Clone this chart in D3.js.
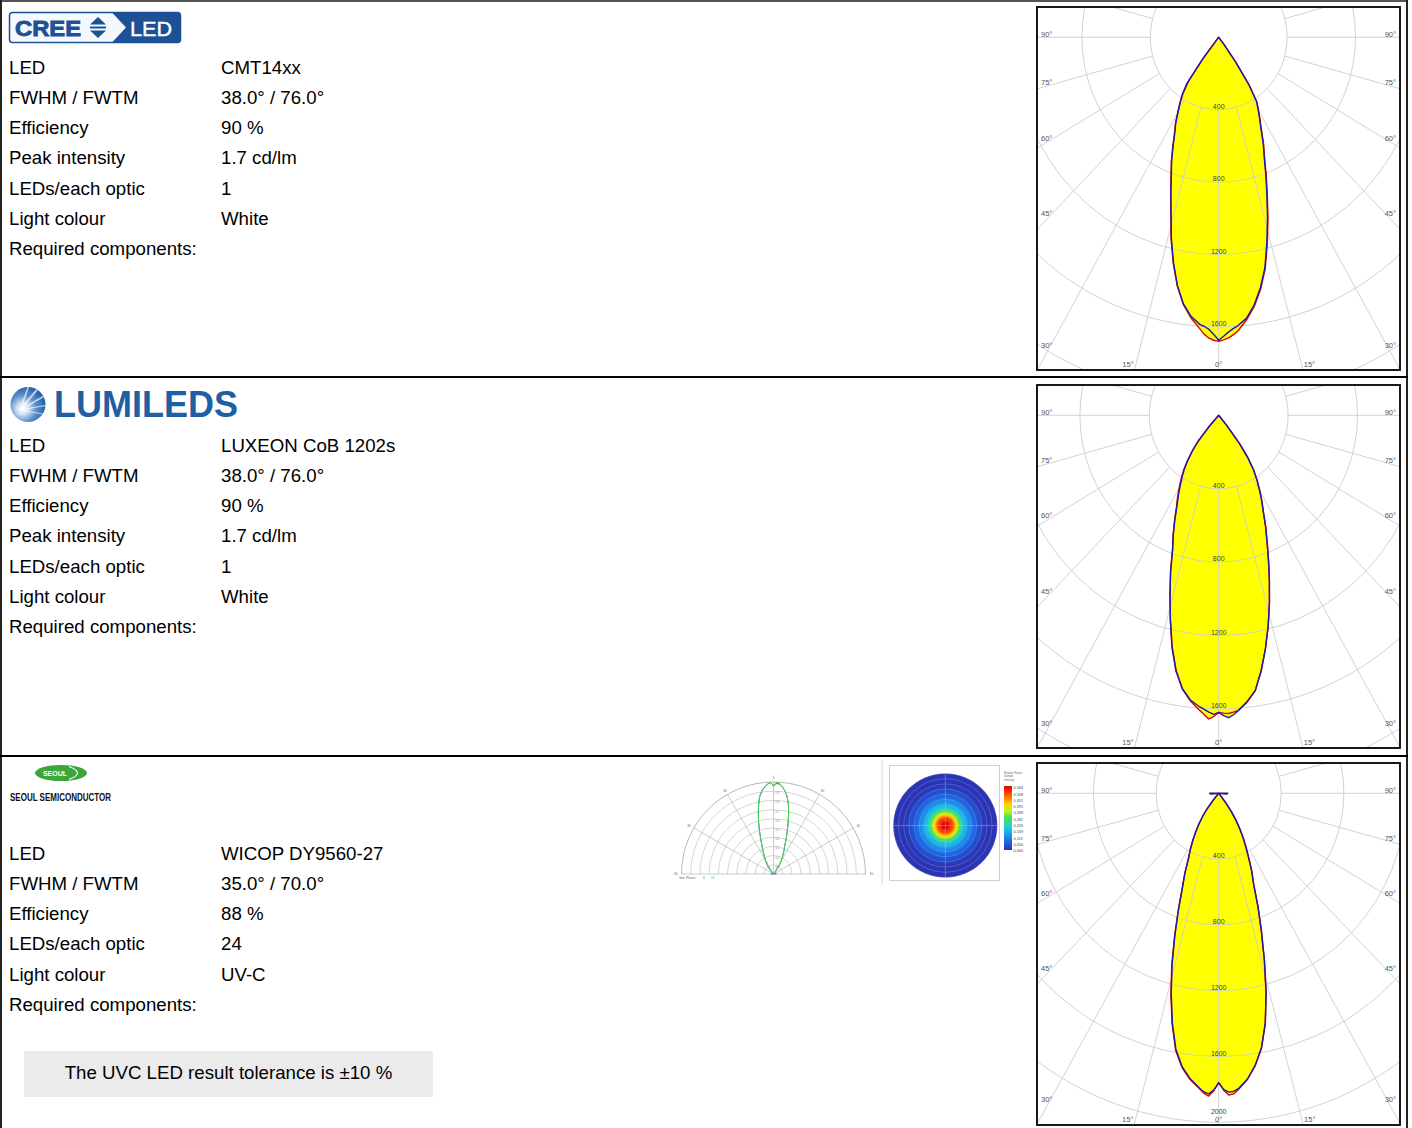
<!DOCTYPE html>
<html><head><meta charset="utf-8">
<script src="https://cdn.jsdelivr.net/npm/d3@7"></script>
<style>body{margin:0;background:#fff;} svg{display:block;font-family:"Liberation Sans",Arial,sans-serif;}</style>
</head><body><svg id="c" width="1412" height="1128"></svg>
<script>
// ---------------- DATA ----------------
const angles = [-90,-85,-44,-42,-40,-38,-36,-34,-32,-30,-28,-26,-24,-22,-20,-18,-16,-14,-12,-10,-8,-6,-4,-3,-2,-1,0,1,2,3,4,6,8,10,12,14,16,18,20,22,24,26,28,30,32,34,36,38,40,42,44,85,90];
// CREE CMT14xx (cd), red = C0-C180, blue = C90-C270
const creeC0  = [0,0,0,0,10,140,300,372,425,478,538,590,660,738,815,910,1015,1150,1278,1395,1490,1558,1612,1642,1662,1674,1680,1672,1662,1645,1625,1568,1500,1412,1308,1175,1045,920,812,716,645,570,514,465,420,318,168,48,0,0,0,0,0];
const creeC90 = [0,0,0,0,20,160,320,380,428,475,535,585,655,735,810,905,1010,1145,1272,1392,1486,1550,1590,1600,1615,1642,1674,1652,1630,1612,1598,1560,1492,1405,1300,1165,1035,912,805,710,640,565,510,462,418,315,168,50,0,0,0,0,0];
// LUMILEDS LUXEON CoB 1202s
const lumC0  = [0,0,0,80,180,245,305,362,410,455,505,555,625,700,778,898,1018,1150,1290,1412,1505,1565,1610,1632,1656,1642,1619,1623,1626,1620,1612,1572,1515,1412,1298,1180,1060,945,838,744,664,586,528,470,415,358,285,192,65,0,0,0,0];
const lumC90 = [0,0,0,90,190,250,305,355,400,445,495,548,620,698,776,898,1018,1152,1295,1417,1505,1560,1592,1605,1618,1630,1619,1637,1649,1634,1614,1568,1515,1412,1298,1180,1062,946,840,746,667,589,531,474,418,362,289,197,70,0,0,0,0];
// SEOUL WICOP DY9560-27
const seoulC0  = [0,0,0,8,55,125,176,226,276,330,385,440,532,622,755,912,1088,1262,1432,1586,1684,1750,1798,1825,1842,1808,1759,1805,1835,1830,1805,1750,1672,1574,1432,1250,1058,882,732,594,520,436,370,310,252,195,138,72,22,0,0,0,0];
const seoulC90 = [58,50,0,10,60,131,180,229,279,333,387,440,530,618,750,905,1080,1254,1425,1578,1678,1745,1795,1818,1828,1805,1759,1800,1818,1815,1800,1748,1672,1572,1430,1255,1062,886,736,598,520,440,373,314,255,198,141,75,25,0,0,50,58];

const ringValues = [400, 800, 1200, 1600, 2000, 2400];
const ringLabelValues = [400, 800, 1200, 1600, 2000];
const spokeAngles = d3.range(0, 360, 15);
const sideLabelAngles = [90, 75, 60, 45, 30];
const bottomLabelAngles = [-15, 0, 15];

const rowLabelsA = ["LED","FWHM / FWTM","Efficiency","Peak intensity","LEDs/each optic","Light colour","Required components:"];
const creeValues = ["CMT14xx","38.0° / 76.0°","90 %","1.7 cd/lm","1","White"];
const lumValues  = ["LUXEON CoB 1202s","38.0° / 76.0°","90 %","1.7 cd/lm","1","White"];
const rowLabelsB = ["LED","FWHM / FWTM","Efficiency","LEDs/each optic","Light colour","Required components:"];
const seoulValues = ["WICOP DY9560-27","35.0° / 70.0°","88 %","24","UV-C"];
const noteText = "The UVC LED result tolerance is ±10 %";

const miniRings = [0.1,0.2,0.3,0.4,0.5,0.6,0.7,0.8,0.9,1.0];
const miniSpokes = [-90,-60,-30,0,30,60,90];
const heatTicks = ["0,564","0,508","0,451","0,395","0,338","0,282","0,226","0,169","0,113","0,056","0,000"];

// ---------------- DRAW ----------------
const svg = d3.select('#c');
svg.append('rect').attr('width',1412).attr('height',1128).attr('fill','#fff');
const deg = d3.scaleLinear().domain([0,180]).range([0,Math.PI]);

// text columns
function drawRows(labels, values, startY) {
  const g = svg.append('g').attr('font-size','18.67px').attr('fill','#000');
  labels.forEach((l,i)=>{
    const y = startY + i*30.25 + 6.7;
    g.append('text').attr('x',9).attr('y',y).text(l);
    if (i < values.length) g.append('text').attr('x',221).attr('y',y).text(values[i]);
  });
}
drawRows(rowLabelsA, creeValues, 67);
drawRows(rowLabelsA, lumValues, 445);
drawRows(rowLabelsB, seoulValues, 853);

// note box
svg.append('rect').attr('x',24).attr('y',1051).attr('width',409).attr('height',46).attr('fill','#ebebeb');
svg.append('text').attr('x',228.5).attr('y',1078.7).attr('text-anchor','middle').attr('font-size','18.67px').text(noteText);

// polar panels
const panels = [
  {top:0,   c0:creeC0,  c90:creeC90,  kx:0.171,  ky:0.181},
  {top:378, c0:lumC0,   c90:lumC90,   kx:0.1735, ky:0.1835},
  {top:756, c0:seoulC0, c90:seoulC90, kx:0.1565, ky:0.1645}
];
panels.forEach((p,pi)=>{
  const fx0=1037, fx1=1400, fy0=p.top+7, fy1=p.top+(pi===2?369:370);
  const cx=1218.7, cy=fy0+30.3;
  const rX = d3.scaleLinear().domain([0,1000]).range([0,1000*p.kx]);
  const rY = d3.scaleLinear().domain([0,1000]).range([0,1000*p.ky]);
  const pt = (a,v)=>[cx+Math.sin(deg(a))*rX(v), cy+Math.cos(deg(a))*rY(v)];
  const id = 'clip'+pi;
  svg.append('clipPath').attr('id',id).append('rect').attr('x',fx0).attr('y',fy0).attr('width',fx1-fx0).attr('height',fy1-fy0);
  const g = svg.append('g').attr('clip-path',`url(#${id})`);
  g.append('rect').attr('x',fx0).attr('y',fy0).attr('width',fx1-fx0).attr('height',fy1-fy0).attr('fill','#fff');
  const line = d3.line().curve(d3.curveLinearClosed);
  const paths = [p.c0,p.c90].map(s=>line(angles.map((a,i)=>pt(a,s[i]))));
  paths.forEach(d=>g.append('path').attr('d',d).attr('fill','#ffff00').attr('stroke','#ffff00').attr('stroke-width',0.8));
  // grid
  ringValues.forEach(v=>g.append('ellipse').attr('cx',cx).attr('cy',cy).attr('rx',rX(v)).attr('ry',rY(v))
      .attr('fill','none').attr('stroke','#cdcdcd').attr('stroke-width',0.9));
  spokeAngles.forEach(a=>{
    const [x1,y1]=pt(a,400), [x2,y2]=pt(a,8000);
    g.append('line').attr('x1',x1).attr('y1',y1).attr('x2',x2).attr('y2',y2).attr('stroke','#cdcdcd').attr('stroke-width',0.9);
  });
  // curves
  g.append('path').attr('d',paths[0]).attr('fill','none').attr('stroke','#e60000').attr('stroke-width',1.4).attr('stroke-linejoin','round');
  g.append('path').attr('d',paths[1]).attr('fill','none').attr('stroke','#1b1bb0').attr('stroke-width',1.4).attr('stroke-linejoin','round');
  // bottom angle labels
  const yb = fy1-6;
  bottomLabelAngles.forEach(a=>{
    const t = deg(a);
    const R = rY.invert((yb-cy)/Math.cos(t));
    const x = cx + Math.sin(t)*rX(R) + (a<0?-8:a>0?8:0);
    g.append('text').attr('x',x).attr('y',yb+2.5).attr('text-anchor','middle').attr('font-size','7.5px').attr('fill','#555').text(Math.abs(a)+'°');
  });
  // ring labels (kept just clear of the 0° label)
  ringLabelValues.forEach(v=>{
    let y = cy + rY(v) - 1;
    if (y < fy1) {
      y = Math.min(y, yb - 4.8);
      g.append('text').attr('x',cx).attr('y',y).attr('text-anchor','middle')
        .attr('font-size','7px').attr('fill','#444').text(v);
    }
  });
  // side labels
  sideLabelAngles.forEach(a=>{
    const t = deg(a);
    const R = rX.invert((cx-(fx0+12))/Math.sin(t));
    const y = cy + Math.cos(t)*rY(R) - 3 + 2.5;
    g.append('text').attr('x',fx0+4).attr('y',y).attr('font-size','7.5px').attr('fill','#555').text(a+'°');
    g.append('text').attr('x',fx1-4).attr('y',y).attr('text-anchor','end').attr('font-size','7.5px').attr('fill','#555').text(a+'°');
  });
  svg.append('rect').attr('x',fx0).attr('y',fy0).attr('width',fx1-fx0).attr('height',fy1-fy0)
     .attr('fill','none').attr('stroke','#000').attr('stroke-width',1.8);
});

// borders
svg.append('line').attr('x1',0).attr('x2',1408).attr('y1',1).attr('y2',1).attr('stroke','#555').attr('stroke-width',2);
svg.append('line').attr('x1',1).attr('x2',1).attr('y1',0).attr('y2',1128).attr('stroke','#222').attr('stroke-width',2);
svg.append('line').attr('x1',1407).attr('x2',1407).attr('y1',0).attr('y2',1128).attr('stroke','#222').attr('stroke-width',2);
[377,756].forEach(y=>svg.append('line').attr('x1',0).attr('x2',1408).attr('y1',y).attr('y2',y).attr('stroke','#000').attr('stroke-width',2));

// ---- CREE logo ----
(function(){
  const blue='#1c5295';
  const g=svg.append('g');
  g.append('rect').attr('x',9.5).attr('y',12.5).attr('width',171).attr('height',30).attr('rx',3).attr('fill','#f5f8fc').attr('stroke',blue).attr('stroke-width',1.5);
  g.append('path').attr('d','M112,12.5 L177.5,12.5 Q180.5,12.5 180.5,15.5 L180.5,39.5 Q180.5,42.5 177.5,42.5 L112,42.5 L126,27.5 Z').attr('fill',blue);
  g.append('text').attr('x',15).attr('y',35.5).attr('font-size','22px').attr('font-weight','bold').attr('fill',blue)
    .attr('stroke',blue).attr('stroke-width',0.9)
    .attr('textLength',66).attr('lengthAdjust','spacingAndGlyphs').text('CREE');
  g.append('path').attr('d','M90,24.5 L98,17 L106,24.5 Z M90,26.6 L106,26.6 L106,28.4 L90,28.4 Z M90,30.5 L106,30.5 L98,38 Z').attr('fill',blue);
  g.append('text').attr('x',130).attr('y',35.5).attr('font-size','21px').attr('fill','#fff')
    .attr('stroke','#fff').attr('stroke-width',0.4)
    .attr('textLength',42).attr('lengthAdjust','spacingAndGlyphs').text('LED');
})();

// ---- LUMILEDS logo ----
(function(){
  const defs=svg.append('defs');
  const rg=defs.append('radialGradient').attr('id','lumg').attr('cx','35%').attr('cy','62%').attr('r','70%');
  [[0,'#ffffff'],[0.22,'#d6e5f5'],[0.55,'#5b90cc'],[1,'#1d5aa0']].forEach(s=>rg.append('stop').attr('offset',s[0]).attr('stop-color',s[1]));
  defs.append('clipPath').attr('id','lumclip').append('circle').attr('cx',28).attr('cy',404.5).attr('r',17.5);
  const g=svg.append('g');
  g.append('circle').attr('cx',28).attr('cy',404.5).attr('r',17.5).attr('fill','url(#lumg)');
  const rays=g.append('g').attr('clip-path','url(#lumclip)');
  [[-70,1.6],[-50,2],[-30,1.6],[-10,1.2],[10,1]].forEach(([a,w])=>{
    const t=a*Math.PI/180;
    rays.append('line').attr('x1',20).attr('y1',410).attr('x2',20+40*Math.cos(t)).attr('y2',410+40*Math.sin(t))
      .attr('stroke','#fff').attr('stroke-opacity',0.65).attr('stroke-width',w);
  });
  g.append('text').attr('x',54).attr('y',417).attr('font-size','36px').attr('font-weight','bold').attr('fill','#1f5fa3')
    .attr('textLength',184).attr('lengthAdjust','spacingAndGlyphs').text('LUMILEDS');
})();

// ---- SEOUL logo ----
(function(){
  const g=svg.append('g');
  g.append('ellipse').attr('cx',61).attr('cy',773).attr('rx',26).attr('ry',8).attr('fill','#3da539');
  g.append('path').attr('d','M69,766.5 Q86,773 69,779.5').attr('fill','none').attr('stroke','#fff').attr('stroke-width',1.2);
  g.append('text').attr('x',55).attr('y',775.6).attr('text-anchor','middle').attr('font-size','7px').attr('font-weight','bold').attr('fill','#fff').text('SEOUL');
  g.append('text').attr('x',10).attr('y',801).attr('font-size','10px').attr('font-weight','bold').attr('fill','#111')
    .attr('textLength',101).attr('lengthAdjust','spacingAndGlyphs').text('SEOUL SEMICONDUCTOR');
})();

// ---- mini half polar (relative) ----
(function(){
  const mcx=773.5, mcy=874, mR=92;
  const maxI = d3.max(seoulC0.concat(seoulC90));
  const mr = d3.scaleLinear().domain([0,1]).range([0,mR]);
  const g=svg.append('g');
  miniRings.forEach(v=>{
    const r=mr(v);
    g.append('path').attr('d',`M${mcx-r},${mcy} A${r},${r} 0 0 1 ${mcx+r},${mcy}`).attr('fill','none')
      .attr('stroke', v===1?'#888':'#bbb').attr('stroke-width',0.6);
  });
  miniSpokes.forEach(a=>{
    const t=deg(a);
    g.append('line').attr('x1',mcx).attr('y1',mcy).attr('x2',mcx+Math.sin(t)*mR).attr('y2',mcy-Math.cos(t)*mR).attr('stroke','#aaa').attr('stroke-width',0.6);
    const lx=mcx+Math.sin(t)*(mR+6), ly=mcy-Math.cos(t)*(mR+4);
    g.append('text').attr('x',lx).attr('y',ly+1).attr('text-anchor','middle').attr('font-size','3px').attr('fill','#666').text(a);
  });
  miniRings.forEach(v=>g.append('text').attr('x',mcx+2).attr('y',mcy-mr(v)+3).attr('font-size','2.6px').attr('fill','#777').text(v.toFixed(1)));
  const pts = s => angles.map((a,i)=>[a,s[i]]).filter(d=>Math.abs(d[0])<=90)
      .map(([a,v])=>[mcx+Math.sin(deg(a))*mr(v/maxI), mcy-Math.cos(deg(a))*mr(v/maxI)]);
  const ln=d3.line();
  g.append('path').attr('d',ln(pts(seoulC90))).attr('fill','none').attr('stroke','#3a50d0').attr('stroke-width',1);
  g.append('path').attr('d',ln(pts(seoulC0))).attr('fill','none').attr('stroke','#44e044').attr('stroke-width',1);
  g.append('text').attr('x',679).attr('y',879).attr('font-size','3px').attr('fill','#666').text('Gen. Planes:');
  g.append('text').attr('x',703).attr('y',879).attr('font-size','3px').attr('fill','#3a50d0').text('0');
  g.append('text').attr('x',711).attr('y',879).attr('font-size','3px').attr('fill','#44c044').text('90');
  svg.append('line').attr('x1',882).attr('x2',882).attr('y1',760).attr('y2',885).attr('stroke','#d8d8d8').attr('stroke-width',1);
})();

// ---- heat map ----
(function(){
  const hcx=945.3, hcy=825.5, hR=52;
  const pos = angles.map((a,i)=>i).filter(i=>angles[i]>=0 && angles[i]<=44);
  const mirror = i => angles.indexOf(-angles[i]);
  const profVals = pos.map(i=>(seoulC0[i]+seoulC90[i]+seoulC0[mirror(i)]+seoulC90[mirror(i)])/4);
  const maxP = d3.max(profVals);
  const profile = d3.scaleLinear().domain(pos.map(i=>angles[i])).range(profVals.map(v=>v/maxP)).clamp(true);
  const stops=[0,0.12,0.25,0.38,0.5,0.62,0.72,0.85,1];
  const cols=['#2b35b5','#1f5fe0','#1aa3ee','#22d5c8','#3de05a','#c8f01a','#ffd000','#ff6000','#e00000'];
  const color = d3.scaleLinear().domain(stops).range(cols);
  const g=svg.append('g');
  g.append('rect').attr('x',889.5).attr('y',765.5).attr('width',110).attr('height',115).attr('fill','#fff').attr('stroke','#cfcfcf').attr('stroke-width',1);
  for (let r=hR; r>0; r-=0.5){
    const th = Math.atan(r/46)*180/Math.PI;
    g.append('circle').attr('cx',hcx).attr('cy',hcy).attr('r',r).attr('fill',color(profile(th)));
  }
  d3.range(1,11).forEach(k=>g.append('circle').attr('cx',hcx).attr('cy',hcy).attr('r',hR*k/10).attr('fill','none').attr('stroke','#b8c0e0').attr('stroke-opacity',0.55).attr('stroke-width',0.5));
  g.append('line').attr('x1',hcx-hR).attr('x2',hcx+hR).attr('y1',hcy).attr('y2',hcy).attr('stroke','#c8d0ee').attr('stroke-opacity',0.7).attr('stroke-width',0.5);
  g.append('line').attr('x1',hcx).attr('x2',hcx).attr('y1',hcy-hR).attr('y2',hcy+hR).attr('stroke','#c8d0ee').attr('stroke-opacity',0.7).attr('stroke-width',0.5);
  const lg=svg.append('defs').append('linearGradient').attr('id','cbar').attr('x1',0).attr('y1',1).attr('x2',0).attr('y2',0);
  stops.forEach((s,i)=>lg.append('stop').attr('offset',s).attr('stop-color',cols[i]));
  g.append('rect').attr('x',1004).attr('y',786).attr('width',8).attr('height',64).attr('fill','url(#cbar)');
  const ty=d3.scalePoint().domain(heatTicks).range([788,851]);
  heatTicks.forEach(t=>g.append('text').attr('x',1013.5).attr('y',ty(t)+1.2).attr('font-size','3.8px').attr('fill','#444').text(t));
  ['Relative Power','Sample','Intensity'].forEach((t,i)=>g.append('text').attr('x',1004).attr('y',774+i*3.3).attr('font-size','2.7px').attr('fill','#666').text(t));
})();
</script></body></html>
